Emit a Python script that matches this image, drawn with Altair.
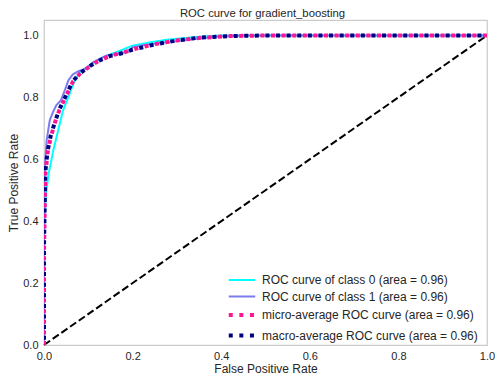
import altair as alt
import pandas as pd

title_text = "ROC curve for gradient_boosting"
series_names = [
    "ROC curve of class 0 (area = 0.96)",
    "ROC curve of class 1 (area = 0.96)",
    "micro-average ROC curve (area = 0.96)",
    "macro-average ROC curve (area = 0.96)",
]
series_colors = ["#00ffff", "#7b7bf0", "#ff1493", "#000080"]

fpr0 = [0, 0, 0.004, 0.01, 0.017, 0.021, 0.032, 0.043, 0.058, 0.066, 0.081, 0.103,
        0.133, 0.163, 0.2, 0.24, 0.276, 0.343, 0.40, 0.5, 1.0]
tpr0 = [0, 0.35, 0.48, 0.55, 0.60, 0.629, 0.694, 0.758, 0.812, 0.844, 0.882, 0.903,
        0.93, 0.946, 0.967, 0.978, 0.986, 0.995, 1.0, 1.0, 1.0]

fpr1 = [0, 0, 0.003, 0.006, 0.013, 0.021, 0.028, 0.038, 0.047, 0.055, 0.065, 0.078, 0.096,
        0.111, 0.141, 0.171, 0.19, 0.2, 0.23, 0.276, 0.343, 0.40, 0.45, 0.6, 1.0]
tpr1 = [0, 0.45, 0.6, 0.661, 0.726, 0.755, 0.775, 0.79, 0.823, 0.855, 0.874, 0.885, 0.893,
        0.914, 0.935, 0.941, 0.948, 0.962, 0.970, 0.978, 0.989, 0.997, 1.0, 1.0, 1.0]

fpr_micro = [0, 0, 0.003, 0.008, 0.015, 0.025, 0.035, 0.045, 0.055, 0.065, 0.08, 0.1,
             0.12, 0.15, 0.18, 0.2, 0.25, 0.3, 0.35, 0.42, 0.5, 1.0]
tpr_micro = [0, 0.30, 0.55, 0.62, 0.67, 0.72, 0.76, 0.79, 0.82, 0.85, 0.875, 0.897,
             0.915, 0.935, 0.945, 0.955, 0.972, 0.984, 0.992, 0.998, 1.0, 1.0]

fpr_macro = [0, 0, 0.003, 0.008, 0.015, 0.025, 0.035, 0.045, 0.055, 0.065, 0.08, 0.1,
             0.12, 0.15, 0.18, 0.2, 0.25, 0.3, 0.35, 0.42, 0.5, 1.0]
tpr_macro = [0, 0.32, 0.56, 0.625, 0.675, 0.722, 0.762, 0.792, 0.823, 0.852, 0.876, 0.898,
             0.916, 0.934, 0.944, 0.954, 0.971, 0.984, 0.993, 0.998, 1.0, 1.0]

chance_x = [0, 1]
chance_y = [0, 1]
tick_values = [0, 0.2, 0.4, 0.6, 0.8, 1.0]

rows = []
for name, fx, ty in zip(series_names,
                        [fpr0, fpr1, fpr_micro, fpr_macro],
                        [tpr0, tpr1, tpr_micro, tpr_macro]):
    for i, (a, b) in enumerate(zip(fx, ty)):
        rows.append({"series": name, "fpr": a, "tpr": b, "i": i})
df = pd.DataFrame(rows)
chance = pd.DataFrame({"fpr": chance_x, "tpr": chance_y, "i": [0, 1]})

x_enc = alt.X("fpr:Q", scale=alt.Scale(domain=[0, 1], nice=False, zero=False),
              axis=alt.Axis(title="False Positive Rate", values=tick_values, format=".1f"))
y_enc = alt.Y("tpr:Q", scale=alt.Scale(domain=[0, 1.05], nice=False, zero=False),
              axis=alt.Axis(title="True Positive Rate", values=tick_values, format=".1f"))

legend = alt.Legend(title=None, orient="none", legendX=192, legendY=254,
                    symbolType="M-6,0H6", symbolSize=19.5,
                    labelFontSize=12, labelColor="#262626",
                    rowPadding=4.5, padding=0, labelOffset=14, labelLimit=0)

color_enc = alt.Color("series:N", scale=alt.Scale(domain=series_names, range=series_colors),
                      legend=legend)
dash_enc = alt.StrokeDash("series:N",
                          scale=alt.Scale(domain=series_names,
                                          range=[[1, 0], [1, 0], [4, 6.6], [4, 6.6]]),
                          legend=legend)
width_enc = alt.StrokeWidth("series:N",
                            scale=alt.Scale(type="ordinal", domain=series_names,
                                            range=[2, 2, 4, 4]),
                            legend=legend)

base = alt.Chart(df).encode(x=x_enc, y=y_enc, color=color_enc, strokeDash=dash_enc,
                            strokeWidth=width_enc, order="i:Q")

lines_a = base.transform_filter(
    alt.FieldOneOfPredicate(field="series", oneOf=series_names[:3])
).mark_line(strokeCap="butt", clip=True)
lines_b = base.transform_filter(
    alt.FieldEqualPredicate(field="series", equal=series_names[3])
).mark_line(strokeCap="butt", strokeDashOffset=5.3, clip=True)

chance_line = alt.Chart(chance).mark_line(color="black", strokeWidth=2,
                                          strokeDash=[7.4, 3.2]).encode(
    x="fpr:Q", y="tpr:Q", order="i:Q")

chart = alt.layer(chance_line, lines_a, lines_b).properties(
    width=443, height=325,
    title=alt.TitleParams(title_text, fontSize=11.3, fontWeight="normal", color="#262626",
                          anchor="middle", offset=1, dx=-3),
    autosize=alt.AutoSizeParams(type="none"),
    padding={"left": 36, "top": 12, "right": 8, "bottom": 29},
).configure(font="Liberation Sans").configure_view(
    stroke="#cccccc", strokeWidth=1.25
).configure_axis(
    domain=False, ticks=False, grid=False, labelFontSize=11, labelColor="#262626",
    titleFontSize=12, titleFontWeight="normal", titleColor="#262626",
    labelFlush=False
).configure_axisY(titlePadding=2, labelPadding=6).configure_axisX(titlePadding=2, labelPadding=5)

chart.save("out.html", embed_options={"renderer": "svg", "actions": False})
